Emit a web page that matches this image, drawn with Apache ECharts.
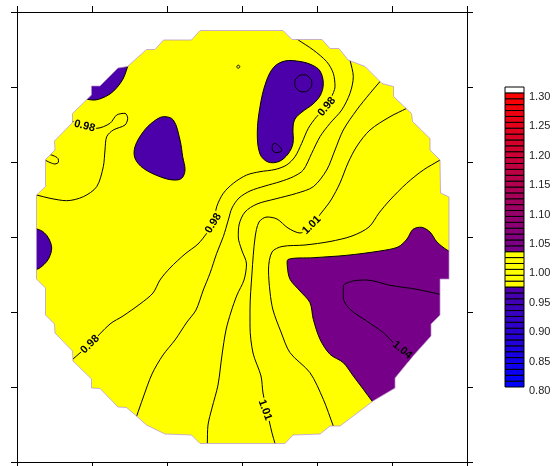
<!DOCTYPE html>
<html><head><meta charset="utf-8">
<script src="https://cdn.jsdelivr.net/npm/echarts@6/dist/echarts.min.js"></script>
<style>html,body{margin:0;padding:0;background:#fff}#c{width:553px;height:466px}</style>
</head><body><div id="c"></div>
<script>
// Map units: frame spans 0..450 on both axes (y measured downward).
const waferOutline = [[183,18.5],[266,18.5],[275,27.5],[305,27.5],[313,36.5],[322,36.5],[331,48],[348,54.5],[365,71.5],[376.5,74.5],[376.5,84.5],[394.5,101.5],[395.5,109.5],[413,126.5],[413,138],[423,148],[423.5,181],[432,185],[432,267],[423,267],[423,303],[414,312],[414,324],[396,344],[378,366],[378,376],[356,389],[349.5,394],[323,414],[313,414],[303,422],[276,423],[268,431.5],[183,431.5],[174.5,423],[148,422],[129.5,413],[119.5,404],[109.5,395.5],[101,395],[83,376.5],[74.5,376],[74.5,367],[56,349],[55.5,339],[38,321],[37.5,312],[28.5,303],[28.5,276],[19.5,267],[19.5,183],[28.5,174.5],[28.5,147.5],[38,138],[37.5,129],[55.5,110.5],[55.5,101.5],[74.5,83],[74.5,74],[83,74],[101,56],[110.5,54.5],[129.5,37.5],[138,37.5],[146.5,28],[174.5,28]];

// Regions below 0.97
const lowTopLeft = [[65,85],[76,88],[84,86.5],[93,82],[100,75.5],[106,67],[109.5,58],[111,50],[103,33],[78,48],[58,73]];
const lowCenterLeft = [[146.3,104.7],[156.3,108],[163,128],[165.7,144.7],[168,158],[164.7,166.3],[156.3,168],[143,164.7],[126.3,156.3],[118,146.3],[118,134.7],[126.3,119.7],[136.3,109.7]];
const lowTop = [[268,49],[283,49.5],[295,53],[303,59],[306.3,71.3],[303.5,83],[296,92],[285,100],[278,107],[276,116],[276,131.3],[271,142],[262,149.5],[251,150],[243,142],[240.3,121.3],[243,94.7],[249,70],[257,55]];
const lowLeft = [[5,214],[20,217],[27,220.5],[32,227],[34.7,236],[32,246],[27,252.5],[20,257.3],[5,260]];
// Region above 1.03
const highRight = [[271.3,247.3],[296.3,245.7],[329.7,243.3],[363,239],[381,235],[390,227],[396,217.3],[404.7,215.3],[413,220],[420,230],[430,238],[445,246],[449,262],[449,405],[368,405],[355,389],[346.3,377.3],[336.3,364],[326.3,350.7],[313,342.3],[303,327.3],[296.3,307.3],[293,290.7],[283,279],[273,267.3],[270.3,254]];

// Contour lines
const c098Main = [[277,25],[281.3,28],[296.3,38],[309.7,49.7],[316.3,61.3],[318,74.7],[314,86],[309.7,94.7],[299.7,104.7],[291.3,116.3],[284.7,131.3],[278,144.7],[269.7,153],[258,157.5],[243,159.7],[229.7,163],[216.3,171.3],[206.3,181.3],[199.7,194.7],[196.3,211.3],[189.7,221.3],[181,232],[168,242],[153,256],[143,268],[136,281],[123,292],[106,304],[93,312],[73,332],[55.7,347.3],[52,351]];
const c098Left = [[52,108.5],[56,109.7],[79.7,116.3],[93,111.3],[99.7,103],[108,101.3],[110.7,106.3],[108,113],[96.3,118],[89.7,124.7],[88,138],[86.3,154.7],[79.7,174.7],[66.3,184.7],[49.7,188.7],[33,186.3],[19.7,183],[15,182]];
const c099 = [[332,44],[333,48],[336.3,64.7],[333,81.3],[324.7,98],[313,111.3],[303,124.7],[294.7,141.3],[286.3,158],[276.3,164.7],[263,169.7],[248,174],[233,179],[222,186],[215,196],[211.3,208],[206.3,224.7],[199.7,241.3],[193,261.3],[186.3,278],[179,298],[170,310],[158,328],[146,343],[135,362],[126,386],[119.7,404],[118,409]];
const c100 = [[367,65],[363.5,69],[353,81.3],[339.7,98],[326.3,118],[318,138],[309.7,158],[296.3,174.7],[279.7,181.3],[258,187],[240,192],[228,200],[222,213],[221.3,225],[224.7,238],[229.5,252],[227,268],[220,283],[214,300],[209,318],[205,343],[201,373],[195,396],[191,413],[190.3,431.5],[190,436]];
const c101 = [[393,94],[389.7,96.3],[373,104.7],[353,118],[340,134],[331,151],[323,171],[314,188],[305,200],[295,212],[283,221],[271,216],[260,207],[250,205],[242,210],[238,226],[235,261],[233,298],[233,314],[236,341],[244,364],[246,381],[250,399],[255,421],[258,431.5],[259,436]];
const c102 = [[427,145],[423,148],[406.3,158],[389.7,171.3],[373,188],[362,201],[352,215],[335,224],[313,229.5],[288,233],[265,234.5],[255,240],[251.5,258],[253,280],[256,298],[264,320],[273,340.7],[293,360.7],[306.3,387.3],[316.3,414],[318,418]];
const c104 = [[426,283],[423,282.3],[399.7,277.3],[373,273.3],[349.7,268],[336.3,269],[326.3,274],[326.3,285.7],[333,297.3],[349.7,309],[366.3,320.7],[376.3,330.7],[384.7,339],[394.7,345.7],[398,348]];
const cSmallLeft = [[27,141],[36,143.5],[41,146.5],[41.5,150],[38,152],[33,150.5],[28,148]];
// Small closed contours
const ring096 = [[294.8,71.3],[292.3,77.3],[286.3,79.8],[280.3,77.3],[277.8,71.3],[280.3,65.3],[286.3,62.8],[292.3,65.3]];
const tri096 = [[257,131.5],[264.5,137],[263,140],[256,139]];
const tinyRing = [[222.8,54.7],[221.3,56.2],[219.8,54.7],[221.3,53.2]];

// Contour labels
const labelPoints = [[309.7,94.7],[196.3,211.3],[73,332.3],[67.5,114],[294.7,213],[248,398],[385.3,338]];
const labelTexts = ['0.98','0.98','0.98','0.98','1.01','1.01','1.04'];

// Colour bar
const barRange = [0.80, 1.31];
const barStep = 0.01;
const barTicks = [0.80,0.85,0.90,0.95,1.00,1.05,1.10,1.15,1.20,1.25,1.30];
const barTickLabels = ['0.80','0.85','0.90','0.95','1.00','1.05','1.10','1.15','1.20','1.25','1.30'];

// ---------- styles ----------
const labelAngles = [50,58,45,-15,45,-70,-39];
function hex(c){return [parseInt(c.slice(1,3),16),parseInt(c.slice(3,5),16),parseInt(c.slice(5,7),16)];}
function mix(a,b,t){const A=hex(a),B=hex(b);return 'rgb('+A.map((v,i)=>Math.round(v+(B[i]-v)*t)).join(',')+')';}
function bandColor(lo){
  lo = Math.round(lo*100)/100;
  if (lo >= 1.30) return '#ffffff';
  if (lo >= 0.97 && lo < 1.03) return '#ffff00';
  if (lo < 0.97) return mix('#0000ff','#4b00a9',(lo-0.80)/0.16);
  return mix('#770088','#ff0000',(lo-1.03)/0.26);
}
const lowColor = bandColor(0.96), highColor = bandColor(1.03);
const labelBg = ['#ffff00','#ffff00','#ffff00','#ffff00','#ffff00','#ffff00',highColor];

const bands = [];
for (let v = barRange[0]; v < barRange[1]-1e-9; v += barStep) bands.push([0.5, Math.round(v*100)/100]);

function polySeries(polys, style, z, smooth){
  return {type:'custom', z, silent:true, clip:true,
    data: polys.map(p=>p[0]),
    renderItem:(params, api)=>({type:'polygon',
      shape:{points: polys[params.dataIndex].map(p=>api.coord(p)), smooth: smooth},
      style: Object.assign({}, style)})};
}
function lineSeries(pts){
  return {type:'line', data: pts, smooth:0.3, symbol:'none', silent:true, z:3,
    lineStyle:{color:'#000', width:1}};
}
const maskPts = [[183,0],[450,0],[450,450],[0,450],[0,0],[183,0]]
  .concat([waferOutline[0]], waferOutline.slice(1).reverse(), [waferOutline[0]]);

const axisCommon = {type:'value', min:0, max:450, interval:75, z:10,
  axisLine:{onZero:false, lineStyle:{color:'#000', width:1}},
  axisTick:{length:6, lineStyle:{color:'#000', width:1}},
  axisLabel:{show:false}, splitLine:{show:false}};

const chart = echarts.init(document.getElementById('c'), null, {renderer:'canvas'});
chart.setOption({
  animation:false,
  grid:[{left:17, top:12, width:450, height:450},
        {left:505, top:87, width:19, height:300}],
  xAxis:[Object.assign({gridIndex:0, position:'bottom'}, axisCommon),
         Object.assign({gridIndex:0, position:'top'}, axisCommon),
         {gridIndex:1, type:'value', min:0, max:1, show:false}],
  yAxis:[Object.assign({gridIndex:0, position:'left', inverse:true}, axisCommon),
         Object.assign({gridIndex:0, position:'right', inverse:true}, axisCommon),
         {gridIndex:1, type:'value', min:barRange[0], max:barRange[1], interval:0.05, show:false}],
  series:[
    polySeries([waferOutline], {fill:'#ffff00'}, 1, 0),
    polySeries([lowTopLeft, lowCenterLeft, lowTop, lowLeft], {fill:lowColor, stroke:'#000', lineWidth:1}, 2, 0.35),
    polySeries([highRight], {fill:highColor, stroke:'#000', lineWidth:1}, 2, 0.3),
    polySeries([ring096, tri096, tinyRing], {fill:'none', stroke:'#000', lineWidth:1}, 3, 0.5),
    lineSeries(c098Main), lineSeries(c098Left), lineSeries(c099), lineSeries(c100),
    lineSeries(c101), lineSeries(c102), lineSeries(c104), lineSeries(cSmallLeft),
    polySeries([maskPts], {fill:'#ffffff'}, 5, 0),
    polySeries([waferOutline], {fill:'none', stroke:'#b58cc4', lineWidth:0.7}, 6, 0),
    {type:'custom', z:7, silent:true, data: labelPoints,
      renderItem:(params, api)=>{
        const i = params.dataIndex, p = api.coord(labelPoints[i]);
        return {type:'text', x:p[0], y:p[1], rotation: labelAngles[i]*Math.PI/180,
          style:{text: labelTexts[i], x:0, y:0, align:'center', verticalAlign:'middle',
            font:'bold 11px "Liberation Sans", Arial, sans-serif', fill:'#000',
            backgroundColor: labelBg[i], padding:[0,1]}};
      }},
    {type:'custom', xAxisIndex:2, yAxisIndex:2, z:2, silent:true, data: bands,
      renderItem:(params, api)=>{
        const lo = bands[params.dataIndex][1];
        const a = api.coord([0, lo+barStep]), b = api.coord([1, lo]);
        return {type:'rect', shape:{x:a[0], y:a[1], width:b[0]-a[0], height:b[1]-a[1]},
          style:{fill: bandColor(lo), stroke:'#000', lineWidth:1}};
      }},
    {type:'custom', xAxisIndex:2, yAxisIndex:2, z:2, silent:true, clip:false,
      data: barTicks.map(v=>[1, v]),
      renderItem:(params, api)=>{
        const p = api.coord([1, barTicks[params.dataIndex]]);
        return {type:'text', x:p[0]+5, y:p[1]+4,
          style:{text: barTickLabels[params.dataIndex], x:0, y:0, align:'left', verticalAlign:'middle',
            font:'11px "Liberation Sans", Arial, sans-serif', fill:'#222'}};
      }}
  ]
});
</script></body></html>
